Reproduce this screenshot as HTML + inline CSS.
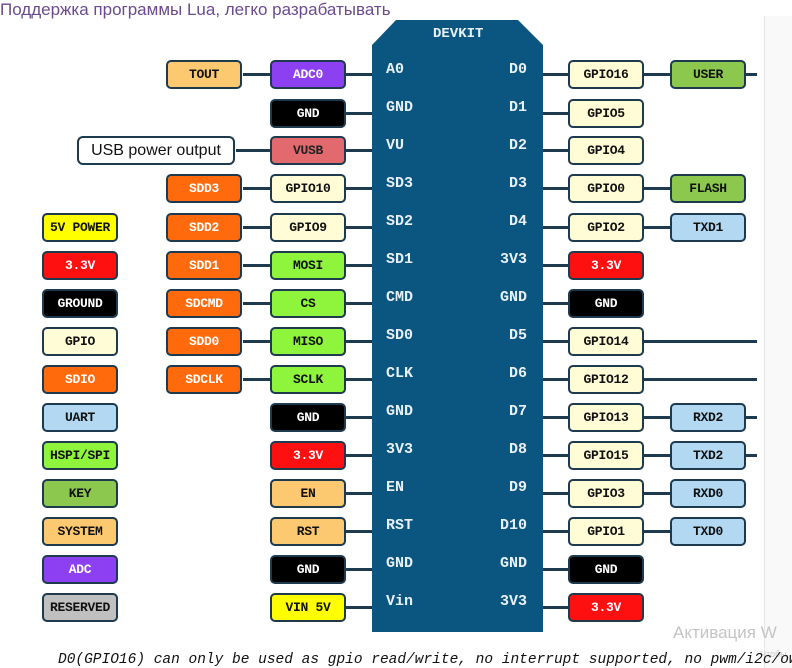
<!DOCTYPE html>
<html><head><meta charset="utf-8"><style>
body{margin:0;width:792px;height:668px;background:#fff;position:relative;overflow:hidden;font-family:"Liberation Sans",sans-serif}
.b{position:absolute;height:25px;width:72px;border:2.5px solid #1d3a4f;border-radius:5px;font:bold 13px "Liberation Mono",monospace;text-align:center;line-height:25px;color:#111;white-space:nowrap;letter-spacing:-0.3px}
.w{color:#fff}
.l{position:absolute;height:3px;background:#1d3a4f}
.p{position:absolute;color:#e8f0f8;font:bold 15px "Liberation Mono",monospace}
.pl{left:386px}.pr{right:265px;text-align:right}
.cr{background:#fffcd6}.or{background:#ff6a0c}.gr{background:#8ef43c}.kg{background:#8cc84e}.sy{background:#fcc870}.rd{background:#ff1010}.bk{background:#000}.ub{background:#b3d9f2}.pu{background:#8d40f2}
</style></head><body>
<div style="position:absolute;left:0;top:0;font-size:17px;color:#6b4a8f;white-space:nowrap">Поддержка программы Lua, легко разрабатывать</div>
<div style="position:absolute;left:764px;top:16px;width:28px;height:652px;background:#f9f9f9;border-left:1px solid #e6e6e6"></div>
<svg style="position:absolute;left:0;top:0" width="792" height="668"><polygon points="372,45 396,20 518,20 543,45 543,632 372,632" fill="#0b5680"/></svg>
<div class="p" style="left:433px;top:26px;font-size:14px">DEVKIT</div>

<div class="l" style="left:243px;top:73px;width:27px"></div>
<div class="l" style="left:345px;top:73px;width:27px"></div>
<div class="l" style="left:345px;top:112px;width:27px"></div>
<div class="l" style="left:236px;top:149px;width:34px"></div>
<div class="l" style="left:345px;top:149px;width:27px"></div>
<div class="l" style="left:243px;top:187px;width:27px"></div><div class="l" style="left:345px;top:187px;width:27px"></div>
<div class="l" style="left:243px;top:226px;width:27px"></div><div class="l" style="left:345px;top:226px;width:27px"></div>
<div class="l" style="left:243px;top:264px;width:27px"></div><div class="l" style="left:345px;top:264px;width:27px"></div>
<div class="l" style="left:243px;top:302px;width:27px"></div><div class="l" style="left:345px;top:302px;width:27px"></div>
<div class="l" style="left:243px;top:340px;width:27px"></div><div class="l" style="left:345px;top:340px;width:27px"></div>
<div class="l" style="left:243px;top:378px;width:27px"></div><div class="l" style="left:345px;top:378px;width:27px"></div>
<div class="l" style="left:345px;top:416px;width:27px"></div>
<div class="l" style="left:345px;top:454px;width:27px"></div>
<div class="l" style="left:345px;top:492px;width:27px"></div>
<div class="l" style="left:345px;top:530px;width:27px"></div>
<div class="l" style="left:345px;top:568px;width:27px"></div>
<div class="l" style="left:345px;top:606px;width:27px"></div>
<div class="l" style="left:543px;top:73px;width:214px"></div>
<div class="l" style="left:543px;top:112px;width:27px"></div>
<div class="l" style="left:543px;top:149px;width:27px"></div>
<div class="l" style="left:543px;top:187px;width:130px"></div>
<div class="l" style="left:543px;top:226px;width:130px"></div>
<div class="l" style="left:543px;top:264px;width:27px"></div>
<div class="l" style="left:543px;top:302px;width:27px"></div>
<div class="l" style="left:543px;top:340px;width:214px"></div>
<div class="l" style="left:543px;top:378px;width:214px"></div>
<div class="l" style="left:543px;top:416px;width:214px"></div>
<div class="l" style="left:543px;top:454px;width:214px"></div>
<div class="l" style="left:543px;top:492px;width:130px"></div>
<div class="l" style="left:543px;top:530px;width:130px"></div>
<div class="l" style="left:543px;top:568px;width:27px"></div>
<div class="l" style="left:543px;top:606px;width:27px"></div>

<div class="p pl" style="top:61px">A0</div><div class="p pr" style="top:61px">D0</div>
<div class="p pl" style="top:99px">GND</div><div class="p pr" style="top:99px">D1</div>
<div class="p pl" style="top:137px">VU</div><div class="p pr" style="top:137px">D2</div>
<div class="p pl" style="top:175px">SD3</div><div class="p pr" style="top:175px">D3</div>
<div class="p pl" style="top:213px">SD2</div><div class="p pr" style="top:213px">D4</div>
<div class="p pl" style="top:251px">SD1</div><div class="p pr" style="top:251px">3V3</div>
<div class="p pl" style="top:289px">CMD</div><div class="p pr" style="top:289px">GND</div>
<div class="p pl" style="top:327px">SD0</div><div class="p pr" style="top:327px">D5</div>
<div class="p pl" style="top:365px">CLK</div><div class="p pr" style="top:365px">D6</div>
<div class="p pl" style="top:403px">GND</div><div class="p pr" style="top:403px">D7</div>
<div class="p pl" style="top:441px">3V3</div><div class="p pr" style="top:441px">D8</div>
<div class="p pl" style="top:479px">EN</div><div class="p pr" style="top:479px">D9</div>
<div class="p pl" style="top:517px">RST</div><div class="p pr" style="top:517px">D10</div>
<div class="p pl" style="top:555px">GND</div><div class="p pr" style="top:555px">GND</div>
<div class="p pl" style="top:593px">Vin</div><div class="p pr" style="top:593px">3V3</div>

<div class="b sy" style="left:166px;top:60px">TOUT</div>
<div style="position:absolute;left:77px;top:136px;width:154px;height:25px;border:2.5px solid #1d3a4f;border-radius:6px;font-size:16px;line-height:25px;text-align:center;color:#111">USB power output</div>
<div class="b or w" style="left:166px;top:174px">SDD3</div>
<div class="b or w" style="left:166px;top:213px">SDD2</div>
<div class="b or w" style="left:166px;top:251px">SDD1</div>
<div class="b or w" style="left:166px;top:289px">SDCMD</div>
<div class="b or w" style="left:166px;top:327px">SDD0</div>
<div class="b or w" style="left:166px;top:365px">SDCLK</div>
<div class="b pu w" style="left:270px;top:60px">ADC0</div>
<div class="b bk w" style="left:270px;top:99px">GND</div>
<div class="b" style="left:270px;top:136px;background:#e26a6e;color:#222">VUSB</div>
<div class="b cr" style="left:270px;top:174px">GPIO10</div>
<div class="b cr" style="left:270px;top:213px">GPIO9</div>
<div class="b gr" style="left:270px;top:251px">MOSI</div>
<div class="b gr" style="left:270px;top:289px">CS</div>
<div class="b gr" style="left:270px;top:327px">MISO</div>
<div class="b gr" style="left:270px;top:365px">SCLK</div>
<div class="b bk w" style="left:270px;top:403px">GND</div>
<div class="b rd w" style="left:270px;top:441px">3.3V</div>
<div class="b sy" style="left:270px;top:479px">EN</div>
<div class="b sy" style="left:270px;top:517px">RST</div>
<div class="b bk w" style="left:270px;top:555px">GND</div>
<div class="b" style="left:270px;top:593px;background:#ffff00">VIN 5V</div>
<div class="b" style="left:42px;top:213px;background:#ffff00">5V POWER</div>
<div class="b rd w" style="left:42px;top:251px">3.3V</div>
<div class="b bk w" style="left:42px;top:289px">GROUND</div>
<div class="b cr" style="left:42px;top:327px">GPIO</div>
<div class="b or w" style="left:42px;top:365px">SDIO</div>
<div class="b ub" style="left:42px;top:403px">UART</div>
<div class="b gr" style="left:42px;top:441px">HSPI/SPI</div>
<div class="b kg" style="left:42px;top:479px">KEY</div>
<div class="b sy" style="left:42px;top:517px">SYSTEM</div>
<div class="b pu w" style="left:42px;top:555px">ADC</div>
<div class="b" style="left:42px;top:593px;background:#c0c0c0">RESERVED</div>
<div class="b cr" style="left:568px;top:60px">GPIO16</div>
<div class="b cr" style="left:568px;top:99px">GPIO5</div>
<div class="b cr" style="left:568px;top:136px">GPIO4</div>
<div class="b cr" style="left:568px;top:174px">GPIO0</div>
<div class="b cr" style="left:568px;top:213px">GPIO2</div>
<div class="b rd w" style="left:568px;top:251px">3.3V</div>
<div class="b bk w" style="left:568px;top:289px">GND</div>
<div class="b cr" style="left:568px;top:327px">GPIO14</div>
<div class="b cr" style="left:568px;top:365px">GPIO12</div>
<div class="b cr" style="left:568px;top:403px">GPIO13</div>
<div class="b cr" style="left:568px;top:441px">GPIO15</div>
<div class="b cr" style="left:568px;top:479px">GPIO3</div>
<div class="b cr" style="left:568px;top:517px">GPIO1</div>
<div class="b bk w" style="left:568px;top:555px">GND</div>
<div class="b rd w" style="left:568px;top:593px">3.3V</div>
<div class="b kg" style="left:670px;top:60px">USER</div>
<div class="b kg" style="left:670px;top:174px">FLASH</div>
<div class="b ub" style="left:670px;top:213px">TXD1</div>
<div class="b ub" style="left:670px;top:403px">RXD2</div>
<div class="b ub" style="left:670px;top:441px">TXD2</div>
<div class="b ub" style="left:670px;top:479px">RXD0</div>
<div class="b ub" style="left:670px;top:517px">TXD0</div>

<div style="position:absolute;left:0;top:615px;width:792px;height:53px;overflow:hidden">
<div style="position:absolute;left:673px;top:8px;font-size:17px;color:#c4c4c4;white-space:nowrap">Активация W</div>
<div style="position:absolute;left:760px;top:34px;font-size:9px;color:#ccc;white-space:nowrap">Чтобы</div>
<div style="position:absolute;left:58px;top:37px;font:italic 14.5px 'Liberation Mono',monospace;color:#111;white-space:nowrap">D0(GPIO16) can only be used as gpio read/write, no interrupt supported, no pwm/i2c/ow</div>
</div>
</body></html>
